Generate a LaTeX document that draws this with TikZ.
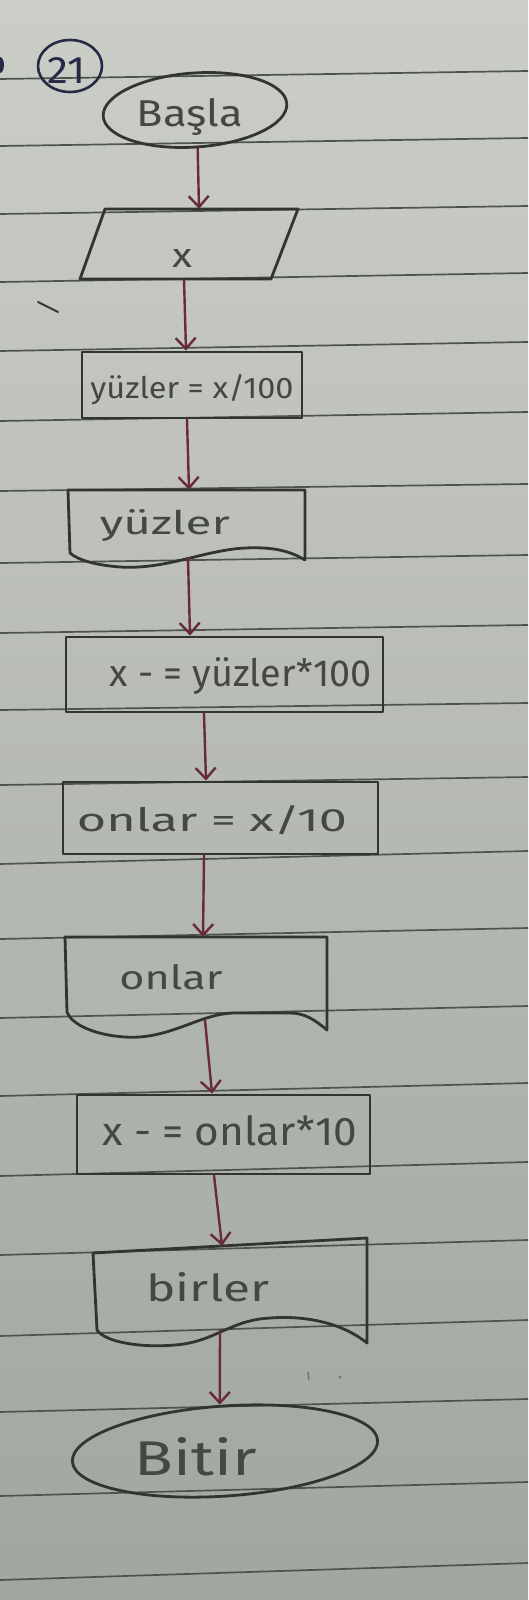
\documentclass[tikz,border=0pt]{standalone}
\usepackage{fontspec}
\usepackage{graphicx}
\setmainfont{Fira Sans}
\usetikzlibrary{arrows.meta,shapes.geometric}
\definecolor{paperT}{RGB}{203,206,198}
\definecolor{paperM}{RGB}{180,184,176}
\definecolor{paperB}{RGB}{160,166,160}
\definecolor{rulec}{RGB}{78,83,79}
\definecolor{inkc}{RGB}{50,52,50}
\definecolor{textc}{RGB}{68,71,68}
\definecolor{arrc}{RGB}{105,42,62}
\definecolor{navyc}{RGB}{38,42,70}
\newcommand\handw[3]{\resizebox{#1pt}{#2pt}{#3}}
\tikzset{
  rulel/.style={draw=rulec, line width=1.7pt},
  ink/.style={draw=inkc, line width=2.8pt, line join=round, line cap=round},
  box/.style={ink, rectangle, inner sep=0pt},
  anchorbox/.style={rectangle, inner sep=0pt},
  term/.style={ink, ellipse, inner sep=0pt},
  txt/.style={text=textc, inner sep=0pt},
  arr/.style={draw=arrc, line width=2.4pt, line cap=round,
    -{Straight Barb[length=11pt,width=20pt]}},
}
\begin{document}
\begin{tikzpicture}[x=1pt,y=-1pt]
\useasboundingbox (0,0) rectangle (528,1600);
% paper
\shade[top color=paperT, middle color=paperM, bottom color=paperB] (0,0) rectangle (528,1600);
\foreach \l/\r in {79/71,146/138,214/206,282/273,351/342,421/412,491/484,563/555,633/625,710/703,785/777,864/851,939/928,1018/1006,1096/1083,1176/1162,1255/1240,1336/1320,1412/1399,1496/1482,1580/1563}
  \draw[rulel] (0,\l) -- (528,\r);
% stray marks
\fill[navyc] (0,65) ellipse (4 and 8);
\draw[draw=inkc, line width=1.8pt, line cap=round] (38,302) -- (58,312);
\draw[draw=inkc!70, line width=1.4pt, line cap=round] (308,1372) -- (309,1380);
\fill[inkc!70] (340,1377) circle (1.5);
% number
\node[ellipse, draw=navyc, line width=2.6pt, minimum width=64pt, minimum height=52pt, inner sep=0pt] (num) at (70,66) {};
\node[text=navyc, inner sep=0pt] at (67,70) {\handw{38}{26}{21}};
% start
\node[term, minimum width=184pt, minimum height=74pt, rotate=4] (basla) at (195,110) {};
\node[txt] at (190,117) {\handw{106}{28}{Başla}};
% input
\draw[ink] (105,209) -- (298,209) -- (271,279) -- (80,279) -- cycle;
\node[anchorbox, minimum width=190pt, minimum height=70pt] (inp) at (189,244) {};
\node[txt] at (182,258) {\handw{20}{18}{x}};
% yuzler = x/100
\node[box, minimum width=220pt, minimum height=66pt] (r1) at (192,385) {};
\node[txt] at (192,390) {\handw{203}{24}{yüzler = x/100}};
% doc yuzler
\draw[ink] (68,490) -- (305,490) -- (305,560)
  .. controls (287,549) and (268,547) .. (245,548)
  .. controls (205,550) and (165,570) .. (120,567)
  .. controls (95,565) and (78,560) .. (70,553) -- cycle;
\node[anchorbox, minimum width=237pt, minimum height=68pt] (d1) at (186.5,524) {};
\node[txt] at (165,525) {\handw{130}{25}{yüzler}};
% x -= yuzler*100
\node[box, minimum width=317pt, minimum height=75pt] (r2) at (224.5,674.5) {};
\node[txt] at (241,676) {\handw{262}{29}{x - = yüzler*100}};
% onlar = x/10
\node[box, minimum width=315pt, minimum height=72pt] (r3) at (220.5,818) {};
\node[txt] at (212,820) {\handw{270}{26}{onlar = x/10}};
% doc onlar
\draw[ink] (65,937) -- (327,937) -- (327,1030)
  .. controls (315,1020) and (305,1013) .. (290,1013) -- (235,1013)
  .. controls (200,1013) and (170,1040) .. (125,1037)
  .. controls (95,1035) and (72,1025) .. (67,1012) -- cycle;
\node[anchorbox, minimum width=262pt, minimum height=83pt] (d2) at (196,978.5) {};
\node[txt] at (171,977) {\handw{103}{25}{onlar}};
% x -= onlar*10
\node[box, minimum width=293pt, minimum height=79pt] (r4) at (223.5,1134.5) {};
\node[txt] at (230,1131) {\handw{255}{30}{x - = onlar*10}};
% doc birler
\draw[ink] (93,1253) -- (367,1238) -- (367,1343)
  .. controls (345,1325) and (310,1315) .. (270,1318)
  .. controls (230,1320) and (215,1342) .. (175,1345)
  .. controls (140,1348) and (105,1342) .. (97,1330) -- cycle;
\node[anchorbox, minimum width=274pt, minimum height=84pt] (d3) at (230,1288) {};
\node[txt] at (208,1287) {\handw{123}{29}{birler}};
% end
\node[term, minimum width=306pt, minimum height=90pt, rotate=4] (bitir) at (225,1451) {};
\node[txt] at (196,1457) {\handw{122}{38}{Bitir}};
% connectors
\draw[arr] (basla.south) -- ([xshift=10pt]inp.north);
\draw[arr] ([xshift=-5pt]inp.south) -- ([xshift=-6pt]r1.north);
\draw[arr] ([xshift=-5pt]r1.south) -- ([xshift=2.5pt]d1.north);
\draw[arr] ([xshift=1.5pt]d1.south) -- ([xshift=-34.5pt]r2.north);
\draw[arr] ([xshift=-20.5pt]r2.south) -- ([xshift=-14.5pt]r3.north);
\draw[arr] ([xshift=-16.5pt]r3.south) -- ([xshift=7pt]d2.north);
\draw[arr] ([xshift=9pt]d2.south) -- ([xshift=-11.5pt]r4.north);
\draw[arr] ([xshift=-9.5pt]r4.south) -- ([xshift=-8pt]d3.north);
\draw[arr] ([xshift=-10pt]d3.south) -- ([xshift=-2pt]bitir.north);
\end{tikzpicture}
\end{document}
